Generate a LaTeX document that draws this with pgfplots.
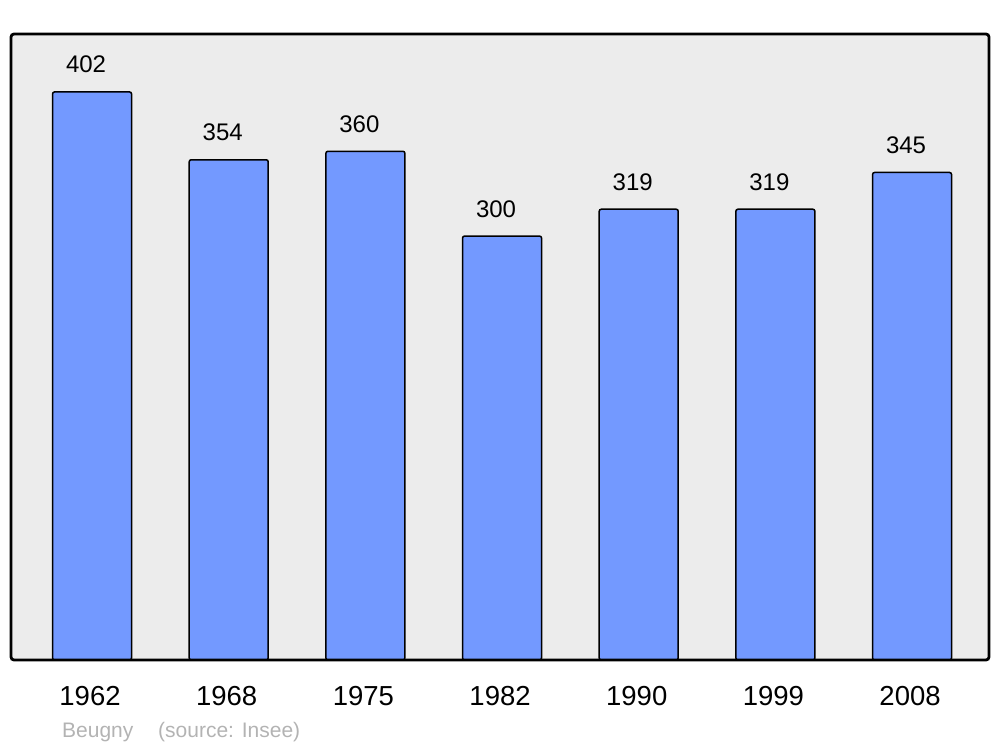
\documentclass[border=0pt]{standalone}
\usepackage{pgfplots}
\pgfplotsset{compat=1.18}
\usepackage{fontspec}
\setmainfont{Liberation Sans}
\definecolor{barcol}{HTML}{7399FF}
\definecolor{bgcol}{HTML}{ECECEC}
\definecolor{srccol}{HTML}{B3B3B3}
\begin{document}
\begin{tikzpicture}[x=1pt,y=1pt]
\useasboundingbox (0,0) rectangle (1000,747);
\begin{axis}[
  at={(11pt,87pt)}, anchor=south west,
  scale only axis, width=978pt, height=626pt,
  xmin=-0.593, xmax=6.563, ymin=0, ymax=443,
  /pgf/number format/assume math mode=true,
  axis line style={draw=none},
  axis background/.style={fill=bgcol, rounded corners=3pt},
  ytick=\empty,
  xtick=data,
  xticklabels={1962,1968,1975,1982,1990,1999,2008},
  major tick length=0pt,
  xticklabel style={font=\fontsize{27.5}{30}\selectfont, anchor=base, yshift=-45pt, xshift=-2pt, inner sep=0pt},
  ybar, bar width=79pt,
  nodes near coords,
  every node near coord/.append style={font=\fontsize{24}{28}\selectfont, anchor=base, yshift=19pt, xshift=-6pt, inner sep=0pt, text=black},
  clip=false,
]
\addplot[fill=barcol, draw=black, line width=1.5pt, rounded corners=2pt] coordinates {
  (0,402) (1,354) (2,360) (3,300) (4,319) (5,319) (6,345)
};
\draw[line width=2.8pt, rounded corners=3pt] (rel axis cs:0,0) rectangle (rel axis cs:1,1);
\end{axis}
\node[anchor=base west, inner sep=0pt, text=srccol, font=\fontsize{21}{24}\selectfont] at (62,10) {Beugny};
\node[anchor=base west, inner sep=0pt, text=srccol, font=\fontsize{21}{24}\selectfont] at (158,10) {(source: Insee)};
\end{tikzpicture}
\end{document}
